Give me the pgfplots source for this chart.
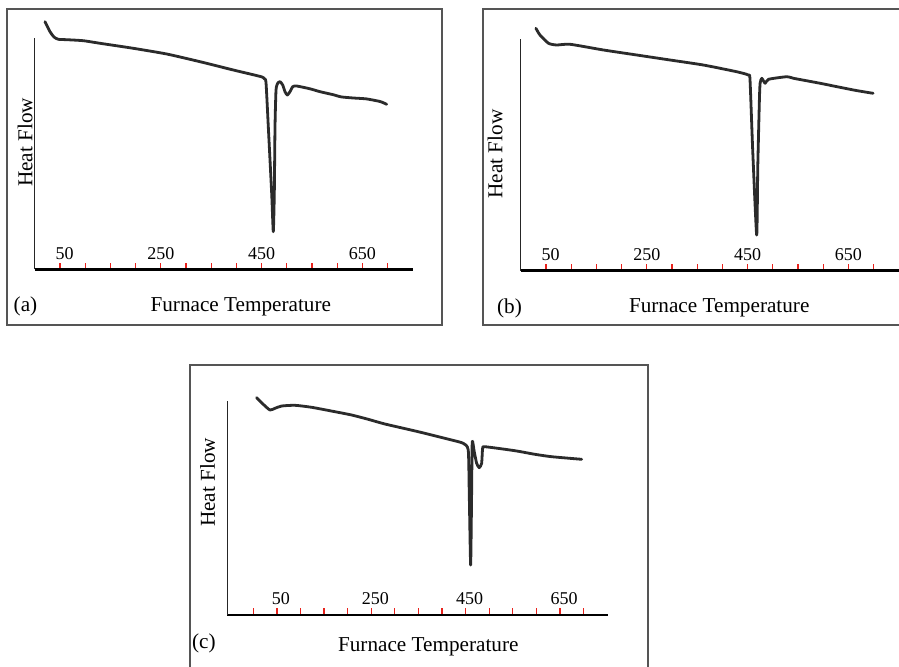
\documentclass[border=0pt]{standalone}
\usepackage{pgfplots}
\pgfplotsset{compat=1.18}
\usepackage{fontspec}
\setmainfont{Liberation Serif}
\definecolor{curve}{HTML}{2B2B2B}
\definecolor{frame}{HTML}{555555}
\definecolor{tickred}{HTML}{E8221C}
\pgfplotsset{dta/.style={
  scale only axis, clip=false, anchor=south west,
  axis x line=bottom, axis y line=none,
  x axis line style={-, line width=1.3pt, black},
  tick align=inside,
  major tick length=3.4pt,
  tick style={tickred, line width=0.65pt},
  xticklabel style={anchor=south, yshift=2.8pt, inner sep=2pt, font=\fontsize{9}{10}\selectfont},
  ymin=0, ytick=\empty,
}}
\begin{document}
\begin{tikzpicture}
\useasboundingbox (0,0) rectangle (449.5pt,333pt);
\clip (0,0) rectangle (449.5pt,333pt);
\fill[white] (0,0) rectangle (449.5pt,333pt);
\draw[frame, line width=0.9pt] (3.5pt,170.5pt) rectangle (221pt,328.5pt);
\draw[frame, line width=0.9pt] (241.5pt,170.5pt) rectangle (452.5pt,328.5pt);
\draw[frame, line width=0.9pt] (95pt,-7pt) rectangle (324pt,150.5pt);

% (a)
\begin{axis}[dta, at={(17.4pt,198.35pt)}, width=189pt, height=125pt,
  xmin=0, xmax=750, ymax=250,
  xtick={50,100,...,700},
  xticklabels={\phantom{0}50,,,,250,,,,450,,,,650,}]
\draw[black!85, line width=0.5pt] (axis cs:0,0) -- (axis cs:0,231);
\addplot[curve, line width=1.4pt, smooth, tension=0.35, line join=round, line cap=round] coordinates {
(20.2,247.6) (30.2,237.6) (38,232.3) (46.6,230) (63.3,229.6) (96.2,228.6)
(129.4,226) (195.4,221) (261.7,215.3) (327.8,207.6) (393.8,199.3) (450,192.5)
(455,190.5) (458.7,187) (463.3,142.6) (470,76) (473.2,37.6) (475.2,76)
(476.6,142.6) (478.6,179.3) (481.9,186) (486.5,187.6) (491.9,184.3) (496.4,177.6)
(501,174.3) (506.3,177.6) (511.7,182.6) (519.6,183.3) (546,180.5) (566,177.6)
(592,174.6) (608,172.4) (632,171.3) (658,170.4) (685,167.8) (698.2,165)};
\end{axis}

% (b)
\begin{axis}[dta, at={(260.4pt,197.65pt)}, width=189pt, height=125pt,
  xmin=0, xmax=750, ymax=250,
  xtick={50,100,...,700},
  xticklabels={\phantom{0}50,,,,250,,,,450,,,,650,}]
\draw[black!85, line width=0.5pt] (axis cs:0,0) -- (axis cs:0,231.7);
\addplot[curve, line width=1.4pt, smooth, tension=0.35, line join=round, line cap=round] coordinates {
(30,242.4) (38,235.7) (55,227.4) (71,225.7) (98,226.4) (164,220.7) (230,215.7)
(296,210.7) (362,205.7) (428,199) (451.4,195.7) (454.8,190.7) (460.1,120.7)
(468,35.7) (470.2,104) (473.4,170.7) (474.8,187.4) (478.2,192.4) (484.8,187.4)
(491.4,191.4) (528,194) (541,192.4) (594,187.4) (660,180.7) (699,177.4)};
\end{axis}

% (c)
\begin{axis}[dta, at={(113.65pt,25.5pt)}, width=190.2pt, height=115pt,
  xmin=-55, xmax=751, ymax=230,
  xtick={0,50,...,700},
  xticklabels={,50,,,,250,,,,450,,,,650,},
  xticklabel style={xshift=2pt}]
\draw[black!85, line width=0.5pt] (axis cs:-55,0) -- (axis cs:-55,214);
\addplot[curve, line width=1.4pt, smooth, tension=0.35, line join=round, line cap=round] coordinates {
(7.2,217.3) (21.2,210.7) (35.4,205) (46,206.7) (60.2,209) (88.3,209.7)
(123.7,207.7) (173.1,203.3) (208.5,200) (243.6,195.7) (279,191) (349.6,183.3)
(420.3,175) (444.9,171.7) (455.5,165) (457.6,123.3) (460.6,50) (462.7,123.3)
(464,173.3) (468.2,163.3) (473.3,151.7) (478.8,147.3) (483.9,151.7) (486,166.7)
(490.9,168.3) (554.4,164.3) (596.8,160.7) (632.2,158.3) (695.8,155.7)};
\end{axis}

\begin{scope}[every node/.style={inner sep=0pt, font=\fontsize{10.6}{12}\selectfont}]
\node[rotate=90] at (12.5pt,261.75pt) {Heat Flow};
\node[rotate=90] at (247.5pt,256pt) {Heat Flow};
\node[rotate=90] at (103.85pt,91.75pt) {Heat Flow};
\node[anchor=base] at (120.4pt,177.15pt) {Furnace Temperature};
\node[anchor=base] at (359.6pt,176.65pt) {Furnace Temperature};
\node[anchor=base] at (214.15pt,7.15pt) {Furnace Temperature};
\node[anchor=base west] at (6.65pt,177.15pt) {(a)};
\node[anchor=base west] at (248.35pt,176.35pt) {(b)};
\node[anchor=base west] at (95.85pt,8.85pt) {(c)};
\end{scope}
\end{tikzpicture}
\end{document}
